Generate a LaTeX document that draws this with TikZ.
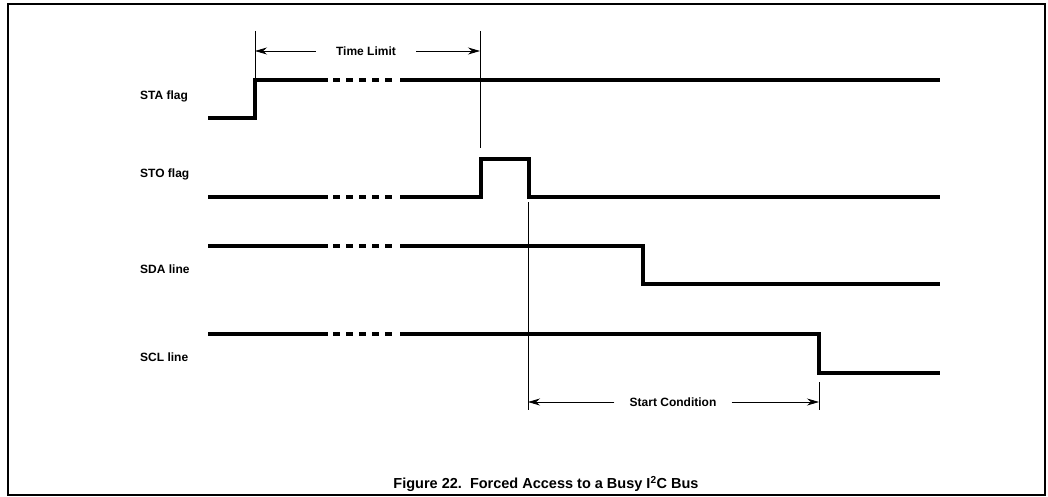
\documentclass[tikz,border=0pt]{standalone}
\usepackage{fontspec}
\setmainfont{Liberation Sans}
\usepackage{tikz}
\usetikzlibrary{arrows.meta}

\tikzset{
    sig/.style={line width=3.2pt, line join=miter},
    gapdash/.style={line width=3.2pt, dash pattern=on 7pt off 6pt},
    marker/.style={line width=0.8pt},
    siglabel/.style={anchor=west, inner sep=0pt, font=\fontsize{12}{14}\selectfont\bfseries},
    dimlabel/.style={inner ysep=0pt, inner xsep=20pt, font=\fontsize{12}{14}\selectfont\bfseries}
}

\begin{document}
\begin{tikzpicture}[x=1pt, y=-1pt, >={Stealth[length=12pt, width=7pt]}]
    \useasboundingbox (0,0) rectangle (1048,497);
    % Frame
    \draw[line width=2pt] (8,4) rectangle (1045,495);

    % Signal names
    \foreach \name/\y/\txt in {sta/96/STA flag, sto/174/STO flag, sda/269/SDA line, scl/357/SCL line}
        \node[siglabel] (\name) at (140,\y) {\txt};

    % STA flag
    \draw[sig] (208,118) -- (255,118) -- (255,80) -- (328,80);
    \draw[sig] (400,80) -- (940,80);

    % STO flag
    \draw[sig] (208,197) -- (328,197);
    \draw[sig] (400,197) -- (481,197) -- (481,159) -- (529,159) -- (529,197) -- (940,197);

    % SDA line
    \draw[sig] (208,246) -- (328,246);
    \draw[sig] (400,246) -- (643,246) -- (643,284) -- (940,284);

    % SCL line
    \draw[sig] (208,334) -- (328,334);
    \draw[sig] (400,334) -- (819,334) -- (819,373) -- (940,373);

    % Broken parts
    \foreach \y in {80,197,246,334}
        \draw[gapdash] (333,\y) -- (395,\y);

    % Time marks
    \coordinate (a0) at (255,31);
    \coordinate (a1) at (255,80);
    \coordinate (b0) at (480,31);
    \coordinate (b1) at (480,148);
    \coordinate (c0) at (528,202);
    \coordinate (c1) at (528,410);
    \coordinate (d0) at (819,382);
    \coordinate (d1) at (819,410);
    \draw[marker] (a0) -- (a1);
    \draw[marker] (b0) -- (b1);
    \draw[marker] (c0) -- (c1);
    \draw[marker] (d0) -- (d1);

    % Time Limit
    \node[dimlabel] (tlim) at (366,51) {Time Limit};
    \draw[marker, ->] (tlim.west) -- (tlim.west -| a0);
    \draw[marker, ->] (tlim.east) -- (tlim.east -| b0);

    % Start Condition
    \node[dimlabel, inner xsep=15pt] (scond) at (673,402) {Start Condition};
    \draw[marker, ->] (scond.west) -- (scond.west -| c0);
    \draw[marker, ->] (scond.east) -- (scond.east -| d0);

    % Caption
    \node[font=\fontsize{14.5}{16}\selectfont\bfseries] (cap) at (546,484)
        {Figure 22.\ \ Forced Access to a Busy I\textsuperscript{2}C Bus};
\end{tikzpicture}
\end{document}
